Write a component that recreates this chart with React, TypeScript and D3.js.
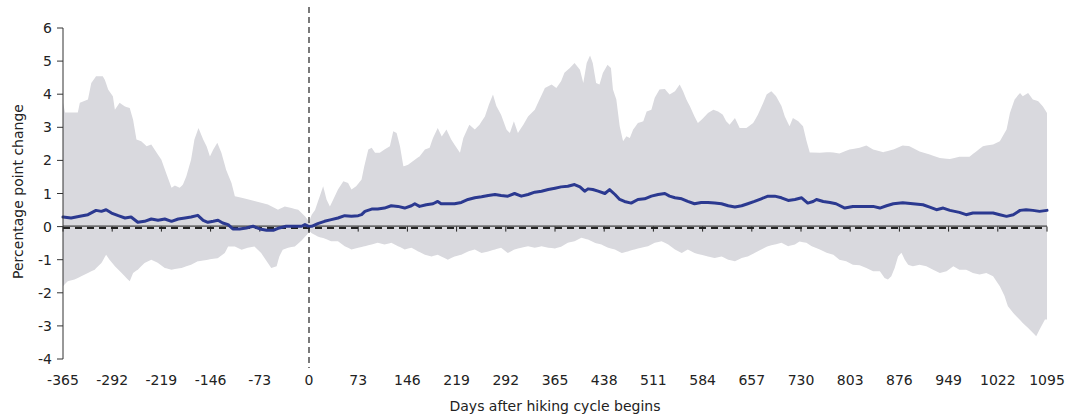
import React from "react";
import * as d3 from "d3";

// Upper edge of the shaded range, [day, percentage points]
const upperBand: [number, number][] = [
  [-365, 3.74], [-362, 3.45], [-343, 3.45], [-340, 3.74], [-328, 3.84], [-323, 4.34], [-316, 4.54],
  [-306, 4.54], [-303, 4.44], [-298, 4.14], [-291, 3.94], [-288, 3.53], [-281, 3.74], [-273, 3.63],
  [-266, 3.58], [-261, 3.23], [-256, 2.63], [-249, 2.58], [-241, 2.43], [-234, 2.48], [-226, 2.23],
  [-219, 2.02], [-212, 1.62], [-204, 1.17], [-199, 1.24], [-192, 1.17], [-187, 1.27], [-182, 1.52],
  [-175, 2.02], [-170, 2.63], [-164, 2.98], [-157, 2.63], [-152, 2.43], [-147, 2.12], [-142, 2.33],
  [-136, 2.53], [-130, 2.23], [-123, 1.72], [-115, 1.32], [-110, 0.92], [-100, 0.87], [-81, 0.77],
  [-61, 0.67], [-46, 0.51], [-36, 0.61], [-26, 0.56], [-16, 0.51], [-6, 0.31], [0, 0.15],
  [4, 0.36], [9, 0.5], [16, 0.92], [21, 1.22], [26, 0.82], [31, 0.61], [36, 0.82], [43, 1.12],
  [51, 1.37], [58, 1.32], [63, 1.12], [70, 1.22], [78, 1.42], [82, 1.82], [88, 2.33], [93, 2.38],
  [98, 2.23], [105, 2.23], [112, 2.33], [120, 2.43], [125, 2.88], [130, 2.83], [135, 2.43],
  [140, 1.82], [147, 1.87], [157, 2.02], [164, 2.12], [172, 2.33], [179, 2.38], [184, 2.68],
  [191, 2.98], [197, 2.72], [204, 2.93], [211, 2.63], [219, 2.38], [224, 2.23], [229, 2.68],
  [238, 3.08], [246, 2.93], [253, 3.08], [261, 3.33], [267, 3.69], [273, 3.99], [278, 3.64],
  [285, 3.38], [293, 2.93], [298, 2.83], [304, 3.18], [310, 2.83], [318, 3.08], [325, 3.33],
  [335, 3.53], [342, 3.84], [350, 4.19], [360, 4.29], [367, 4.19], [374, 4.39], [379, 4.65],
  [387, 4.79], [394, 4.94], [402, 4.74], [407, 4.34], [412, 4.94], [417, 5.17], [421, 4.94],
  [426, 4.34], [431, 4.29], [436, 4.64], [443, 4.89], [448, 4.79], [451, 4.14], [456, 3.84],
  [461, 3.03], [466, 2.58], [471, 2.73], [476, 2.68], [481, 2.93], [488, 3.13], [496, 3.18],
  [501, 3.48], [508, 3.53], [513, 3.89], [520, 4.14], [528, 4.16], [535, 3.99], [543, 4.09],
  [550, 4.29], [555, 4.09], [560, 3.84], [565, 3.64], [572, 3.33], [577, 3.13], [585, 3.28],
  [592, 3.43], [600, 3.53], [607, 3.48], [614, 3.38], [619, 3.18], [624, 3.08], [632, 3.28],
  [639, 2.98], [649, 2.98], [659, 3.13], [666, 3.38], [674, 3.74], [679, 3.99], [686, 4.09],
  [693, 3.94], [701, 3.64], [706, 3.33], [713, 3.03], [718, 3.28], [726, 3.18], [733, 3.03],
  [738, 2.6], [743, 2.24], [758, 2.23], [773, 2.25], [787, 2.21], [802, 2.33], [817, 2.38],
  [827, 2.45], [837, 2.33], [852, 2.25], [867, 2.33], [881, 2.45], [891, 2.43], [906, 2.27],
  [921, 2.18], [936, 2.07], [951, 2.04], [965, 2.11], [980, 2.11], [990, 2.27], [1000, 2.43],
  [1015, 2.48], [1025, 2.58], [1035, 2.93], [1040, 3.43], [1047, 3.84], [1055, 4.04],
  [1059, 3.94], [1067, 4.04], [1074, 3.84], [1082, 3.79], [1089, 3.63], [1095, 3.43],
];

// Lower edge of the shaded range, [day, percentage points]
const lowerBand: [number, number][] = [
  [-365, -1.8], [-358, -1.65], [-348, -1.6], [-338, -1.5], [-328, -1.4], [-318, -1.3], [-308, -1.1],
  [-301, -0.85], [-296, -1.0], [-288, -1.2], [-278, -1.4], [-271, -1.55], [-266, -1.65],
  [-261, -1.4], [-254, -1.3], [-244, -1.1], [-234, -1.0], [-224, -1.1], [-214, -1.25],
  [-204, -1.3], [-189, -1.25], [-175, -1.15], [-165, -1.05], [-150, -1.0], [-135, -0.95],
  [-125, -0.8], [-120, -0.6], [-110, -0.6], [-100, -0.7], [-91, -0.64], [-81, -0.6], [-71, -0.8],
  [-61, -1.1], [-56, -1.25], [-48, -1.2], [-44, -0.9], [-39, -0.7], [-31, -0.64], [-21, -0.6],
  [-11, -0.42], [-2, -0.22], [0, -0.12], [4, -0.2], [13, -0.3], [23, -0.36], [33, -0.44],
  [43, -0.44], [53, -0.59], [63, -0.69], [73, -0.64], [83, -0.59], [93, -0.54], [102, -0.49],
  [112, -0.54], [122, -0.49], [132, -0.59], [142, -0.69], [152, -0.64], [162, -0.75],
  [172, -0.85], [182, -0.9], [191, -0.85], [201, -0.95], [206, -1.0], [216, -0.9], [226, -0.85],
  [236, -0.75], [246, -0.69], [256, -0.8], [266, -0.75], [276, -0.69], [285, -0.64], [295, -0.8],
  [305, -0.69], [315, -0.64], [325, -0.59], [335, -0.64], [345, -0.59], [355, -0.64],
  [365, -0.66], [374, -0.61], [384, -0.49], [394, -0.44], [404, -0.34], [414, -0.39],
  [424, -0.49], [434, -0.54], [444, -0.64], [454, -0.69], [464, -0.8], [473, -0.75], [483, -0.69],
  [493, -0.64], [503, -0.59], [513, -0.49], [523, -0.44], [533, -0.54], [543, -0.69], [553, -0.8],
  [562, -0.69], [572, -0.8], [582, -0.85], [592, -0.9], [602, -0.95], [612, -0.9], [622, -1.0],
  [632, -1.05], [642, -0.95], [651, -0.9], [661, -0.8], [671, -0.69], [681, -0.59], [691, -0.54],
  [701, -0.49], [711, -0.59], [721, -0.54], [728, -0.45], [738, -0.49], [746, -0.59],
  [758, -0.69], [768, -0.79], [778, -0.85], [787, -1.0], [797, -1.05], [807, -1.15],
  [817, -1.17], [827, -1.25], [837, -1.35], [847, -1.35], [854, -1.55], [859, -1.6], [864, -1.5],
  [869, -1.25], [874, -0.9], [879, -0.79], [884, -1.0], [889, -1.15], [896, -1.2], [906, -1.15],
  [916, -1.2], [926, -1.3], [936, -1.4], [946, -1.35], [956, -1.2], [965, -1.3], [975, -1.3],
  [985, -1.4], [995, -1.45], [1005, -1.4], [1015, -1.5], [1025, -1.8], [1032, -2.1],
  [1037, -2.41], [1045, -2.61], [1052, -2.76], [1059, -2.91], [1067, -3.06], [1074, -3.21],
  [1079, -3.31], [1084, -3.11], [1092, -2.81], [1095, -2.81],
];

// Average change, [day, percentage points]
const meanChange: [number, number][] = [
  [-365, 0.29], [-353, 0.26], [-340, 0.31], [-328, 0.36], [-316, 0.49], [-308, 0.46], [-301, 0.51],
  [-293, 0.41], [-283, 0.33], [-273, 0.26], [-264, 0.29], [-254, 0.13], [-244, 0.16], [-234, 0.23],
  [-224, 0.19], [-214, 0.23], [-204, 0.16], [-194, 0.23], [-184, 0.26], [-175, 0.29], [-165, 0.34],
  [-157, 0.19], [-150, 0.13], [-142, 0.16], [-135, 0.19], [-128, 0.11], [-120, 0.06],
  [-113, -0.07], [-103, -0.07], [-93, -0.04], [-83, 0.01], [-73, -0.07], [-63, -0.11],
  [-53, -0.11], [-44, -0.04], [-34, 0.01], [-21, 0.01], [-11, 0.01], [-6, 0.06], [0, 0.0],
  [4, 0.01], [13, 0.09], [23, 0.16], [33, 0.21], [43, 0.26], [53, 0.33], [63, 0.31], [73, 0.33],
  [78, 0.36], [83, 0.46], [93, 0.53], [102, 0.53], [112, 0.56], [122, 0.63], [132, 0.61],
  [142, 0.56], [152, 0.63], [157, 0.69], [164, 0.61], [174, 0.66], [184, 0.69], [191, 0.76],
  [196, 0.69], [206, 0.69], [216, 0.69], [226, 0.73], [236, 0.82], [246, 0.87], [256, 0.9],
  [266, 0.94], [276, 0.97], [285, 0.94], [295, 0.92], [305, 1.0], [315, 0.92], [325, 0.97],
  [335, 1.04], [345, 1.07], [355, 1.12], [365, 1.16], [374, 1.2], [384, 1.22], [394, 1.27],
  [402, 1.2], [409, 1.07], [414, 1.14], [421, 1.12], [429, 1.07], [439, 1.0], [446, 1.12],
  [454, 0.97], [461, 0.82], [468, 0.76], [478, 0.71], [488, 0.82], [498, 0.84], [508, 0.92],
  [518, 0.97], [528, 1.0], [535, 0.92], [543, 0.87], [553, 0.84], [562, 0.76], [572, 0.69],
  [582, 0.73], [592, 0.73], [602, 0.71], [612, 0.69], [622, 0.63], [632, 0.59], [642, 0.63],
  [651, 0.69], [661, 0.76], [671, 0.84], [681, 0.92], [691, 0.92], [701, 0.87], [711, 0.79],
  [721, 0.82], [731, 0.87], [740, 0.71], [748, 0.76], [753, 0.82], [763, 0.76], [773, 0.73],
  [782, 0.69], [795, 0.56], [807, 0.61], [822, 0.61], [837, 0.61], [847, 0.56], [857, 0.63],
  [867, 0.69], [881, 0.72], [896, 0.69], [911, 0.66], [921, 0.59], [931, 0.51], [941, 0.56],
  [951, 0.49], [965, 0.43], [975, 0.36], [985, 0.41], [1000, 0.41], [1015, 0.41], [1025, 0.36],
  [1035, 0.31], [1045, 0.36], [1055, 0.49], [1064, 0.51], [1074, 0.49], [1084, 0.46],
  [1095, 0.49],
];

const xTicks = [-365, -292, -219, -146, -73, 0, 73, 146, 219, 292, 365, 438, 511, 584, 657, 730, 803, 876, 949, 1022, 1095];
const yTicks = [-4, -3, -2, -1, 0, 1, 2, 3, 4, 5, 6];

const xTitle = "Days after hiking cycle begins";
const yTitle = "Percentage point change";

const W = 1081;
const H = 417;
const FONT = "'DejaVu Sans', Verdana, sans-serif";

export default function App() {
  const x = d3.scaleLinear().domain([-365, 1095]).range([63, 1047]);
  const y = d3.scaleLinear().domain([-4, 6]).range([359, 28]);

  // Merge both edges on the union of their days so the band can be filled as one area.
  const upperAt = (d: number) => {
    const i = d3.bisector((p: [number, number]) => p[0]).left(upperBand, d);
    if (i <= 0) return upperBand[0][1];
    if (i >= upperBand.length) return upperBand[upperBand.length - 1][1];
    const a = upperBand[i - 1], b = upperBand[i];
    return a[1] + ((b[1] - a[1]) * (d - a[0])) / (b[0] - a[0] || 1);
  };
  const lowerAt = (d: number) => {
    const i = d3.bisector((p: [number, number]) => p[0]).left(lowerBand, d);
    if (i <= 0) return lowerBand[0][1];
    if (i >= lowerBand.length) return lowerBand[lowerBand.length - 1][1];
    const a = lowerBand[i - 1], b = lowerBand[i];
    return a[1] + ((b[1] - a[1]) * (d - a[0])) / (b[0] - a[0] || 1);
  };
  const days = Array.from(new Set([...upperBand.map((p) => p[0]), ...lowerBand.map((p) => p[0])])).sort((a, b) => a - b);
  const band = days.map((d) => ({ d, hi: upperAt(d), lo: lowerAt(d) }));

  const areaGen = d3
    .area<{ d: number; hi: number; lo: number }>()
    .x((p) => x(p.d))
    .y0((p) => y(p.lo))
    .y1((p) => y(p.hi));

  const lineGen = d3
    .line<[number, number]>()
    .x((p) => x(p[0]))
    .y((p) => y(p[1]));

  const y0 = y(0);

  return (
    <svg
      width={W}
      height={H}
      style={{ position: "absolute", left: 0, top: 0, display: "block", background: "#fff" }}
    >
      <path d={areaGen(band) || ""} fill="#d9d9de" />

      {/* zero line: thin solid rule with a heavier dashed rule beneath */}
      <line x1={x(-365)} x2={x(1095)} y1={y0 - 0.5} y2={y0 - 0.5} stroke="#222" strokeWidth={1} />
      <line
        x1={x(-365)}
        x2={x(1095)}
        y1={y0 + 1.5}
        y2={y0 + 1.5}
        stroke="#222"
        strokeWidth={2}
        strokeDasharray="7,5"
      />
      {xTicks.map((t) => (
        <line key={"xt" + t} x1={x(t)} x2={x(t)} y1={y0} y2={y0 + 5} stroke="#222" strokeWidth={1} />
      ))}

      <path
        d={lineGen(meanChange) || ""}
        fill="none"
        stroke="#2b3990"
        strokeWidth={3}
        strokeLinejoin="round"
        strokeLinecap="round"
      />

      {/* marker for the start of the hiking cycle */}
      <line x1={x(0)} x2={x(0)} y1={7} y2={368} stroke="#222" strokeWidth={1.2} strokeDasharray="6,4" />

      {/* y axis */}
      <line x1={x(-365)} x2={x(-365)} y1={y(-4)} y2={y(6)} stroke="#333" strokeWidth={1} />
      {yTicks.map((t) => (
        <g key={"yt" + t}>
          <line x1={x(-365) - 6} x2={x(-365)} y1={y(t)} y2={y(t)} stroke="#333" strokeWidth={1} />
          <text
            x={x(-365) - 11}
            y={y(t)}
            dy="0.36em"
            textAnchor="end"
            fontFamily={FONT}
            fontSize={14}
            fill="#222"
          >
            {t}
          </text>
        </g>
      ))}

      {xTicks.map((t) => (
        <text
          key={"xl" + t}
          x={x(t)}
          y={385}
          textAnchor="middle"
          fontFamily={FONT}
          fontSize={14}
          fill="#222"
        >
          {t}
        </text>
      ))}

      <text x={(x(-365) + x(1095)) / 2} y={411} textAnchor="middle" fontFamily={FONT} fontSize={14} fill="#222">
        {xTitle}
      </text>
      <text
        transform={`translate(23, ${(y(-4) + y(6)) / 2 - 2}) rotate(-90)`}
        textAnchor="middle"
        fontFamily={FONT}
        fontSize={14}
        fill="#222"
      >
        {yTitle}
      </text>
    </svg>
  );
}
